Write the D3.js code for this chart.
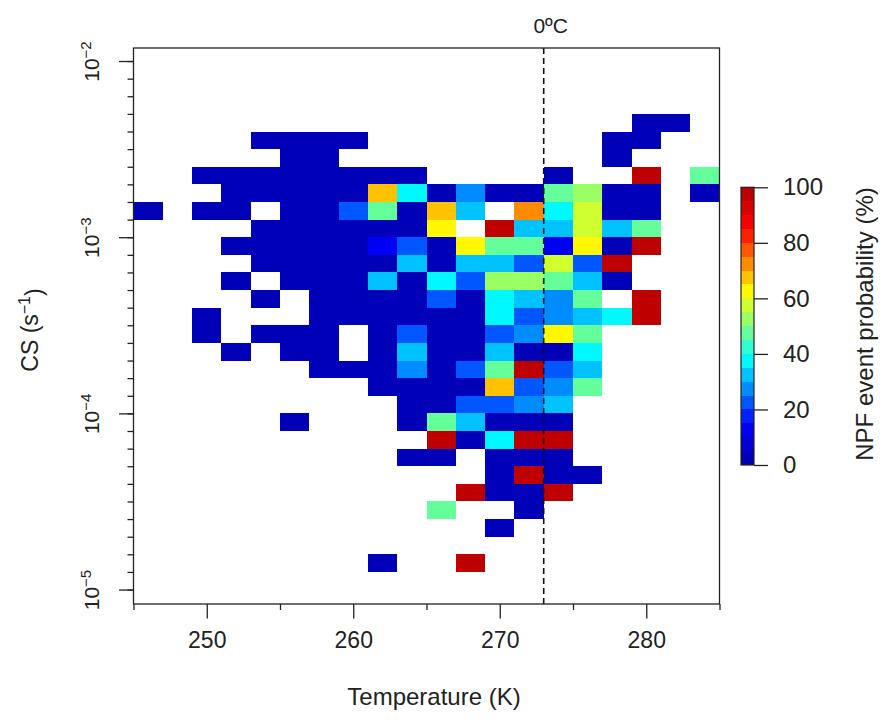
<!DOCTYPE html>
<html>
<head>
<meta charset="utf-8">
<script src="https://cdn.jsdelivr.net/npm/d3@7"></script>
<style>
  body { margin: 0; background: #fff; }
  text { font-family: "Liberation Sans", Arial, sans-serif; fill: #222; }
</style>
</head>
<body>
<div id="chart"></div>
<script>
// temperature bin edges (K), 2 K wide
const tempEdges = d3.range(245, 287, 2);
const tempTicks = [250, 260, 270, 280];
const tempMinorTicks = [245, 255, 265, 275, 285];
// log10(CS) exponents for the labelled ticks
const csTickExp = [-5, -4, -3, -2];
const colorTicks = [0, 20, 40, 60, 80, 100];
const freezingPoint = 273;

// upper edge (log10 CS) of each CS bin, 0.1 decade tall
const csBinTop = [-2.3, -2.4, -2.5, -2.6, -2.7, -2.8, -2.9, -3.0, -3.1, -3.2, -3.3, -3.4, -3.5,
                  -3.6, -3.7, -3.8, -3.9, -4.0, -4.1, -4.2, -4.3, -4.4, -4.5, -4.6, -4.7, -4.8];

const _ = null;
// NPF event probability (%) per CS bin (rows) and temperature bin (columns 245..283 K)
const probability = [
  [_,_,_,_,_,_,_,_,_,_,_,_,_,_,_,_,_,0,0,_],
  [_,_,_,_,0,0,0,0,_,_,_,_,_,_,_,_,0,0,_,_],
  [_,_,_,_,_,0,0,_,_,_,_,_,_,_,_,_,0,_,_,_],
  [_,_,0,0,0,0,0,0,0,0,_,_,_,_,0,_,_,97,_,47],
  [_,_,_,0,0,0,0,0,67,37,0,27,0,0,47,52,0,0,_,0],
  [0,_,0,0,_,0,0,22,45,0,67,32,_,73,37,57,0,0,_,_],
  [_,_,_,_,0,0,0,0,0,0,62,_,97,32,32,57,32,47,_,_],
  [_,_,_,0,0,0,0,0,13,22,0,62,47,47,13,62,0,97,_,_],
  [_,_,_,_,0,0,0,0,0,32,0,32,32,22,57,22,97,_,_,_],
  [_,_,_,0,_,0,0,0,32,0,37,22,52,52,47,32,0,_,_,_],
  [_,_,_,_,0,_,0,0,0,0,22,0,37,32,27,47,_,97,_,_],
  [_,_,0,_,_,_,0,0,0,0,0,0,37,22,27,32,37,97,_,_],
  [_,_,0,_,0,0,0,_,0,22,0,0,22,27,62,47,_,_,_,_],
  [_,_,_,0,_,0,0,_,0,32,0,0,32,0,0,37,_,_,_,_],
  [_,_,_,_,_,_,0,0,0,27,0,22,47,97,22,32,_,_,_,_],
  [_,_,_,_,_,_,_,_,0,0,0,0,67,22,27,47,_,_,_,_],
  [_,_,_,_,_,_,_,_,_,0,0,22,22,27,32,_,_,_,_,_],
  [_,_,_,_,_,0,_,_,_,0,47,32,0,0,0,_,_,_,_,_],
  [_,_,_,_,_,_,_,_,_,_,97,0,37,97,97,_,_,_,_,_],
  [_,_,_,_,_,_,_,_,_,0,0,_,0,0,0,_,_,_,_,_],
  [_,_,_,_,_,_,_,_,_,_,_,_,0,97,0,0,_,_,_,_],
  [_,_,_,_,_,_,_,_,_,_,_,97,0,0,97,_,_,_,_,_],
  [_,_,_,_,_,_,_,_,_,_,47,_,_,0,_,_,_,_,_,_],
  [_,_,_,_,_,_,_,_,_,_,_,_,0,_,_,_,_,_,_,_],
  [_,_,_,_,_,_,_,_,_,_,_,_,_,_,_,_,_,_,_,_],
  [_,_,_,_,_,_,_,_,0,_,_,97,_,_,_,_,_,_,_,_]
];

const jetStops = ["#0000b8", "#0000ff", "#007fff", "#00ffff", "#7fff7f",
                  "#ffff00", "#ff7f00", "#ff0000", "#be0000"];

const width = 880, height = 720;
const svg = d3.select('#chart').append('svg')
  .attr('width', width)
  .attr('height', height);

const plot = {left: 133.5, right: 719.5, top: 48, bottom: 604};

const x = d3.scaleLinear().domain([245, 285]).range([plot.left, plot.right]);
const y = d3.scaleLog().domain([Math.pow(10, -5.082), Math.pow(10, -1.926)]).range([plot.bottom, plot.top]);

const palette = d3.quantize(d3.piecewise(d3.interpolateRgb, jetStops), 20);
const color = d3.scaleQuantize().domain([0, 100]).range(palette);

// cells
const cells = [];
probability.forEach((row, r) => {
  row.forEach((v, c) => {
    if (v !== null) cells.push({top: csBinTop[r], t0: tempEdges[c], t1: tempEdges[c + 1], v: v});
  });
});

svg.append('g')
  .attr('shape-rendering', 'crispEdges')
  .selectAll('rect')
  .data(cells)
  .join('rect')
  .attr('x', d => x(d.t0))
  .attr('width', d => x(d.t1) - x(d.t0))
  .attr('y', d => y(Math.pow(10, d.top)))
  .attr('height', d => y(Math.pow(10, d.top - 0.1)) - y(Math.pow(10, d.top)))
  .attr('fill', d => color(Math.min(d.v, 99.99)));

// 0 C line
svg.append('line')
  .attr('x1', x(freezingPoint)).attr('x2', x(freezingPoint))
  .attr('y1', plot.top).attr('y2', plot.bottom)
  .attr('stroke', '#111')
  .attr('stroke-width', 1.6)
  .attr('stroke-dasharray', '6,4');

svg.append('text')
  .attr('x', x(freezingPoint) + 7)
  .attr('y', 33)
  .attr('text-anchor', 'middle')
  .style('font-size', '21px')
  .text('0ºC');

// box
svg.append('rect')
  .attr('x', plot.left).attr('y', plot.top)
  .attr('width', plot.right - plot.left)
  .attr('height', plot.bottom - plot.top)
  .attr('fill', 'none')
  .attr('stroke', '#222')
  .attr('stroke-width', 1.3);

const styleAxis = g => {
  g.select('.domain').remove();
  g.selectAll('line').attr('stroke', '#222').attr('stroke-width', 1.3);
};

// x axis
svg.append('g')
  .attr('transform', `translate(0,${plot.bottom})`)
  .call(d3.axisBottom(x).tickValues(tempTicks).tickSize(14.5).tickPadding(13))
  .call(styleAxis)
  .call(g => g.selectAll('text').style('font-size', '23px').attr('fill', '#222'));

svg.append('g')
  .attr('transform', `translate(0,${plot.bottom})`)
  .call(d3.axisBottom(x).tickValues(tempMinorTicks).tickSize(6).tickFormat(''))
  .call(styleAxis);

// y axis
const minorExp = d3.range(-50, -19).map(k => k / 10);
svg.append('g')
  .attr('transform', `translate(${plot.left},0)`)
  .call(d3.axisLeft(y).tickValues(minorExp.map(e => Math.pow(10, e))).tickSize(6).tickFormat(''))
  .call(styleAxis);

const yMajor = svg.append('g')
  .attr('transform', `translate(${plot.left},0)`)
  .call(d3.axisLeft(y).tickValues(csTickExp.map(e => Math.pow(10, e))).tickSize(14.5).tickFormat(''))
  .call(styleAxis);

yMajor.selectAll('.tick').each(function(d, i) {
  const t = d3.select(this).append('text')
    .attr('transform', 'translate(-35,0) rotate(-90)')
    .attr('text-anchor', 'middle')
    .attr('fill', '#222')
    .style('font-size', '21px');
  t.append('tspan').text('10');
  t.append('tspan').attr('dy', '-0.5em').style('font-size', '15px').text('\u2212' + Math.abs(csTickExp[i]));
});

// axis titles
svg.append('text')
  .attr('x', 434)
  .attr('y', 705)
  .attr('text-anchor', 'middle')
  .style('font-size', '24px')
  .text('Temperature (K)');

const yTitle = svg.append('text')
  .attr('transform', 'translate(38,330) rotate(-90)')
  .attr('text-anchor', 'middle')
  .style('font-size', '23px');
yTitle.append('tspan').text('CS (s');
yTitle.append('tspan').attr('dy', '-0.5em').style('font-size', '16px').text('\u22121');
yTitle.append('tspan').attr('dy', '0.5em').text(')');

// colour bar
const bar = {left: 741, right: 754, top: 187.3, bottom: 465};
const yBar = d3.scaleLinear().domain([0, 100]).range([bar.bottom, bar.top]);
const bands = palette.map((c, i) => ({c: c, lo: i * 5, hi: i * 5 + 5}));

svg.append('g')
  .attr('shape-rendering', 'crispEdges')
  .selectAll('rect')
  .data(bands)
  .join('rect')
  .attr('x', bar.left)
  .attr('width', bar.right - bar.left)
  .attr('y', d => yBar(d.hi))
  .attr('height', d => yBar(d.lo) - yBar(d.hi))
  .attr('fill', d => d.c);

svg.append('rect')
  .attr('x', bar.left).attr('y', bar.top)
  .attr('width', bar.right - bar.left)
  .attr('height', bar.bottom - bar.top)
  .attr('fill', 'none')
  .attr('stroke', '#222')
  .attr('stroke-width', 1.2);

svg.append('g')
  .attr('transform', `translate(${bar.right},0)`)
  .call(d3.axisRight(yBar).tickValues(colorTicks).tickSize(14).tickPadding(15))
  .call(styleAxis)
  .call(g => g.selectAll('text').style('font-size', '24px').attr('fill', '#222'));

svg.append('text')
  .attr('transform', 'translate(873,324) rotate(-90)')
  .attr('text-anchor', 'middle')
  .style('font-size', '24px')
  .text('NPF event probability (%)');
</script>
</body>
</html>
